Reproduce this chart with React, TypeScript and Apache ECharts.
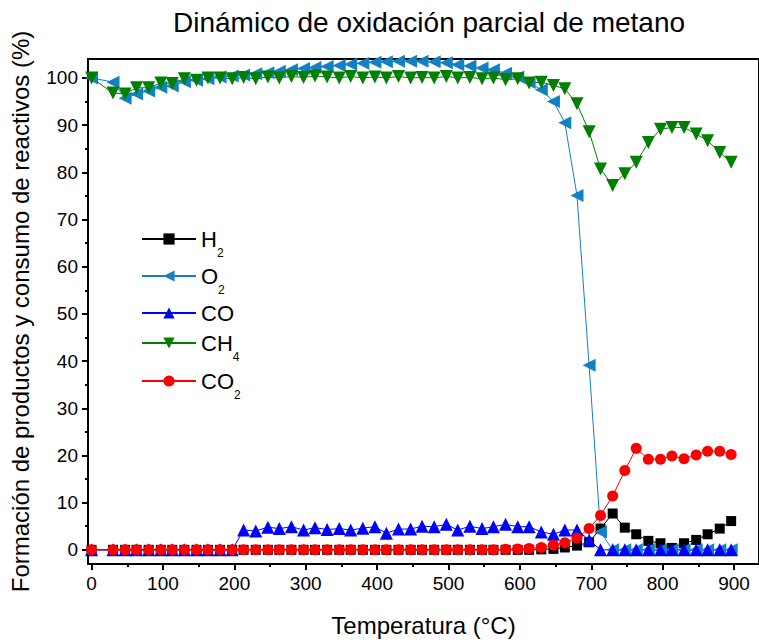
import React, { useEffect, useRef } from "react";
import * as echarts from "echarts";

const temps = [0, 30, 47, 63, 80, 97, 113, 130, 147, 163, 180, 197, 213, 230, 247, 263, 280, 297, 313, 330, 347, 363, 380, 397, 413, 430, 447, 463, 480, 497, 513, 530, 547, 563, 580, 597, 613, 630, 647, 663, 680, 697, 713, 730, 747, 763, 780, 797, 813, 830, 847, 863, 880, 896];

const h2 = [0, 0, 0, 0, 0, 0, 0, 0, 0, 0, 0, 0, 0, 0, 0, 0, 0, 0, 0, 0, 0, 0, 0, 0, 0, 0, 0, 0, 0, 0, 0, 0, 0, 0, 0, 0, 0, 0.1, 0.2, 0.5, 0.9, 1.6, 4.5, 7.7, 4.7, 3.3, 1.9, 1.4, 0.4, 1.4, 2.1, 3.3, 4.5, 6.1];

const o2 = [100, 99.1, 95.7, 96.6, 97.2, 98.0, 98.3, 99.2, 99.5, 99.8, 100.2, 100.4, 100.6, 100.9, 101.1, 101.4, 101.7, 102.0, 102.2, 102.4, 102.6, 102.9, 103.1, 103.3, 103.4, 103.5, 103.5, 103.5, 103.4, 103.2, 102.8, 102.5, 102.1, 101.7, 101.0, 100.2, 99.0, 97.5, 95.0, 90.5, 75.1, 39.1, 3.8, 0, 0, 0, 0, 0, 0, 0, 0, 0, 0, 0];

const co = [0, 0, 0, 0, 0, 0, 0, 0, 0, 0, 0, 0, 4.2, 4.0, 4.8, 4.5, 4.9, 4.2, 4.7, 4.3, 4.5, 4.2, 4.6, 4.9, 3.5, 4.4, 4.4, 5.0, 4.9, 5.4, 4.2, 5.0, 4.5, 4.9, 5.4, 4.9, 4.9, 3.8, 3.3, 4.2, 4.2, 2.1, 0, 0, 0, 0, 0, 0, 0, 0, 0, 0, 0, 0];

const ch4 = [100, 96.8, 96.6, 97.9, 97.9, 98.9, 98.8, 99.8, 99.5, 100.0, 100.0, 99.8, 100.1, 99.8, 100.2, 100.0, 100.3, 100.1, 100.4, 100.2, 100.0, 100.3, 100.0, 100.2, 100.0, 100.3, 100.0, 100.1, 100.0, 100.3, 100.0, 100.1, 99.8, 100.0, 99.6, 99.8, 98.9, 99.1, 98.4, 97.7, 94.5, 88.6, 80.7, 77.2, 79.7, 82.1, 86.3, 89.1, 89.5, 89.5, 88.1, 86.7, 84.2, 82.1];

const co2 = [0, 0, 0, 0, 0, 0, 0, 0, 0, 0, 0, 0, 0, 0, 0, 0, 0, 0, 0, 0, 0, 0, 0, 0, 0, 0, 0, 0, 0, 0, 0, 0, 0, 0, 0.1, 0.2, 0.3, 0.5, 1.0, 1.5, 2.5, 4.5, 7.3, 11.4, 16.8, 21.5, 19.2, 19.2, 19.9, 19.3, 20.1, 20.9, 20.9, 20.2];

const xMajorTicks = [0, 100, 200, 300, 400, 500, 600, 700, 800, 900];
const xMinorTicks = [50, 150, 250, 350, 450, 550, 650, 750, 850];
const yMajorTicks = [0, 10, 20, 30, 40, 50, 60, 70, 80, 90, 100];
const yMinorTicks = [5, 15, 25, 35, 45, 55, 65, 75, 85, 95];

const seriesNames = ["H2", "O2", "CO", "CH4", "CO2"];
const legendLabels: Record<string, string> = {
  H2: "{m|H}{s|2}",
  O2: "{m|O}{s|2}",
  CO: "{m|CO}{s| }",
  CH4: "{m|CH}{s|4}",
  CO2: "{m|CO}{s|2}",
};
const legendRows = [239, 276, 313, 343, 381];

const FONT = "Liberation Sans, Arial, sans-serif";

export default function App() {
  const ref = useRef<HTMLDivElement>(null);
  useEffect(() => {
    if (!ref.current) return;
    const chart = echarts.init(ref.current, undefined, { renderer: "svg" });
    const pair = (ys: number[]) => temps.map((t, i) => [t, ys[i]]);
    const styles = [
      { name: "H2", data: h2, color: "#000000", symbol: "rect", size: 10, rotate: 0 },
      { name: "O2", data: o2, color: "#1480c4", symbol: "triangle", size: 13, rotate: 90 },
      { name: "CO", data: co, color: "#0000ff", symbol: "triangle", size: 13, rotate: 0 },
      { name: "CH4", data: ch4, color: "#008000", symbol: "triangle", size: 13, rotate: 180 },
      { name: "CO2", data: co2, color: "#ff0000", symbol: "circle", size: 11, rotate: 0 },
    ];
    const axisFont = { fontFamily: FONT, fontSize: 19, color: "#000" };
    const option: any = {
      animation: false,
      backgroundColor: "#fff",
      title: {
        text: "Dinámico de oxidación parcial de metano",
        left: 168,
        top: 3,
        textStyle: { fontFamily: FONT, fontSize: 28, fontWeight: "normal", color: "#000" },
      },
      grid: {
        left: 85,
        top: 59,
        width: 683,
        height: 509,
        show: true,
        borderColor: "#000",
        borderWidth: 2,
        containLabel: false,
      },
      legend: seriesNames.map((n, i) => ({
        data: [n],
        left: 141,
        top: legendRows[i] - 19.5,
        padding: 0,
        orient: "vertical",
        itemWidth: 54,
        itemHeight: 14,
        formatter: (name: string) => legendLabels[name],
        textStyle: {
          rich: {
            m: { fontFamily: FONT, fontSize: 22, lineHeight: 22, color: "#000" },
            s: { fontFamily: FONT, fontSize: 12, lineHeight: 12, padding: [27, 0, 0, 0], color: "#000" },
          },
        },
      })),
      xAxis: [
        {
          type: "value",
          min: -5,
          max: 935,
          name: "Temperatura (°C)",
          nameLocation: "middle",
          nameGap: 49,
          nameTextStyle: { fontFamily: FONT, fontSize: 24, color: "#000" },
          axisLine: { show: true, onZero: false, lineStyle: { color: "#000", width: 2 } },
          axisTick: { show: true, customValues: xMajorTicks, length: 6, lineStyle: { color: "#000", width: 2 } },
          axisLabel: { show: true, customValues: xMajorTicks, margin: 10, ...axisFont },
          splitLine: { show: false },
        },
        {
          type: "value",
          min: -5,
          max: 935,
          position: "bottom",
          axisLine: { show: false, onZero: false },
          axisTick: { show: true, customValues: xMinorTicks, length: 3, lineStyle: { color: "#000", width: 2 } },
          axisLabel: { show: false },
          splitLine: { show: false },
        },
      ],
      yAxis: [
        {
          type: "value",
          min: -3,
          max: 104,
          name: "Formación de productos y consumo de reactivos (%)",
          nameLocation: "middle",
          nameGap: 56,
          nameTextStyle: { fontFamily: FONT, fontSize: 24, color: "#000" },
          axisLine: { show: true, onZero: false, lineStyle: { color: "#000", width: 2 } },
          axisTick: { show: true, customValues: yMajorTicks, length: 6, lineStyle: { color: "#000", width: 2 } },
          axisLabel: { show: true, customValues: yMajorTicks, margin: 10, ...axisFont },
          splitLine: { show: false },
        },
        {
          type: "value",
          min: -3,
          max: 104,
          position: "left",
          axisLine: { show: false, onZero: false },
          axisTick: { show: true, customValues: yMinorTicks, length: 3, lineStyle: { color: "#000", width: 2 } },
          axisLabel: { show: false },
          splitLine: { show: false },
        },
      ],
      series: styles.map((s) => ({
        name: s.name,
        type: "line",
        xAxisIndex: 0,
        yAxisIndex: 0,
        data: pair(s.data),
        symbol: s.symbol,
        symbolSize: s.size,
        symbolRotate: s.rotate,
        showAllSymbol: true,
        clip: false,
        lineStyle: { color: s.color, width: 1 },
        itemStyle: { color: s.color, borderWidth: 0 },
        emphasis: { disabled: true },
      })),
    };
    chart.setOption(option);
    return () => chart.dispose();
  }, []);
  return (
    <div
      ref={ref}
      style={{ position: "fixed", left: 0, top: 0, width: 759, height: 642 }}
    />
  );
}
